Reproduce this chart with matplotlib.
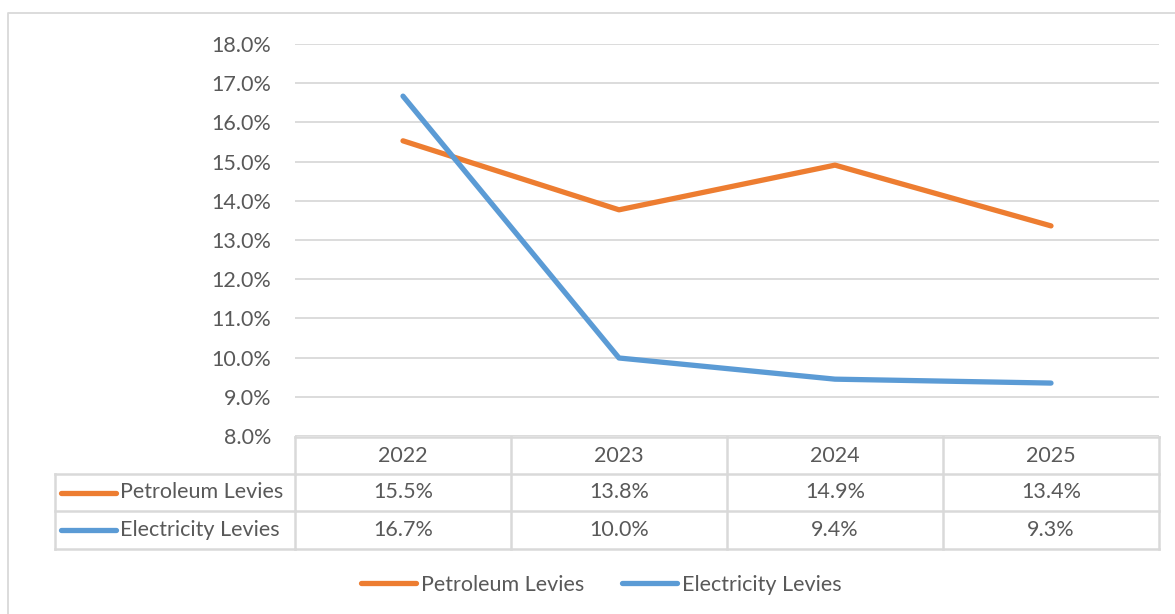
import matplotlib
matplotlib.use('Agg')
import matplotlib.pyplot as plt
from matplotlib.lines import Line2D
from matplotlib.transforms import blended_transform_factory
import numpy as np

years = ['2022', '2023', '2024', '2025']
petroleum = [15.53, 13.77, 14.91, 13.36]
electricity = [16.67, 9.99, 9.45, 9.35]
series_names = ['Petroleum Levies', 'Electricity Levies']
series_values = [petroleum, electricity]
colors = ['#ED7D31', '#5B9BD5']
yticks = [8, 9, 10, 11, 12, 13, 14, 15, 16, 17, 18]

plt.rcParams['font.family'] = ['Lato', 'DejaVu Sans']
TXT = '#595959'
GRID = '#D9D9D9'
FS = 15.5

W, H = 1175, 614
fig = plt.figure(figsize=(W / 100, H / 100), dpi=100)


def fx(x):
    return x / W


def fy(y):
    return 1 - y / H


ax = fig.add_axes([fx(295), fy(436), fx(1159) - fx(295), fy(44) - fy(436)])
x = np.arange(len(years))
for vals, c in zip(series_values, colors):
    ax.plot(x, vals, color=c, lw=3.8, solid_capstyle='round', zorder=3)
ax.set_xlim(-0.5, len(years) - 0.5)
ax.set_ylim(yticks[0], yticks[-1])
ax.set_yticks(yticks)
ax.set_yticklabels([f'{v:.1f}%' for v in yticks])
ax.yaxis.grid(True, color=GRID, lw=1.3)
ax.set_axisbelow(True)
for s in ax.spines.values():
    s.set_visible(False)
ax.tick_params(axis='y', length=0, pad=17, labelsize=FS, labelcolor=TXT)
ax.tick_params(axis='x', length=0, labelbottom=False)

# outer chart frame (partially visible)
fig.add_artist(Line2D([fx(8), fx(8), fx(1175)], [fy(614), fy(13), fy(13)],
                      transform=fig.transFigure, color=GRID, lw=1.3))

# data table
bt = blended_transform_factory(ax.transData, fig.transFigure)
rows_y = [437, 474, 511, 549]
lab_left = 55
xl, xr = -0.5, len(years) - 0.5
lkw = dict(color=GRID, lw=1.8)
fig.add_artist(Line2D([xl, xr], [fy(rows_y[0])] * 2, transform=bt, **lkw))
for yy in rows_y[1:]:
    fig.add_artist(Line2D([fx(lab_left), fx(295)], [fy(yy)] * 2, transform=fig.transFigure, **lkw))
    fig.add_artist(Line2D([xl, xr], [fy(yy)] * 2, transform=bt, **lkw))
fig.add_artist(Line2D([fx(lab_left)] * 2, [fy(rows_y[1]), fy(rows_y[3])], transform=fig.transFigure, **lkw))
for b in np.arange(len(years) + 1) - 0.5:
    fig.add_artist(Line2D([b, b], [fy(rows_y[0]), fy(rows_y[3])], transform=bt, **lkw))

for i, yr in enumerate(years):
    fig.text(i, fy((rows_y[0] + rows_y[1]) / 2), yr, transform=bt,
             ha='center', va='center', fontsize=FS, color=TXT)
for r, (name, vals, c) in enumerate(zip(series_names, series_values, colors)):
    yc = fy((rows_y[r + 1] + rows_y[r + 2]) / 2)
    for i, v in enumerate(vals):
        fig.text(i, yc, f'{v:.1f}%', transform=bt, ha='center', va='center',
                 fontsize=FS, color=TXT)
    fig.add_artist(Line2D([fx(61), fx(116)], [yc, yc], transform=fig.transFigure,
                          color=c, lw=3.8, solid_capstyle='round'))
    fig.text(fx(120), yc, name, ha='left', va='center', fontsize=FS, color=TXT)

# legend
handles = [Line2D([], [], color=c, lw=3.8, solid_capstyle='round') for c in colors]
fig.legend(handles, series_names, loc='center', bbox_to_anchor=(fx(601), fy(585)),
           ncol=2, frameon=False, fontsize=FS, labelcolor=TXT, handlelength=2.55,
           handletextpad=0.23, columnspacing=1.77)

fig.savefig('out.png', dpi=100)
